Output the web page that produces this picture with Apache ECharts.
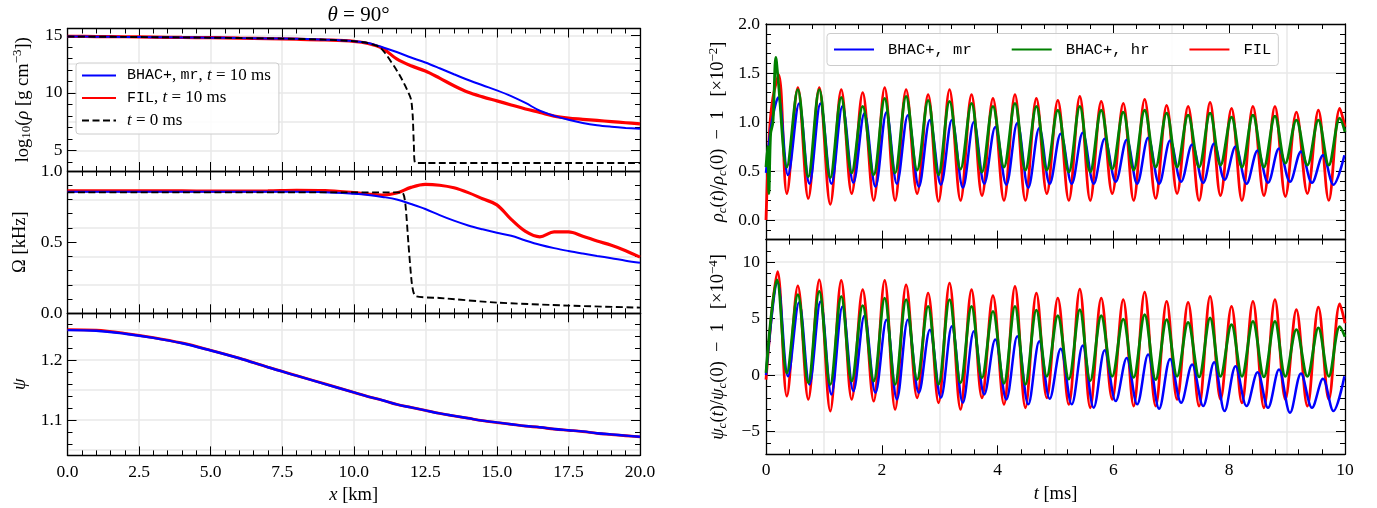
<!DOCTYPE html>
<html><head><meta charset="utf-8"><title>chart</title>
<script src="https://cdn.jsdelivr.net/npm/echarts@6.0.0/dist/echarts.min.js"></script>
<style>html,body{margin:0;padding:0;background:#fff;}#chart{width:1377px;height:508px;}</style>
</head><body><div id="chart"></div>
<script>
// ================= DATA: left column (profiles along x, theta = 90 deg) =================
const xKm = [0,1,2,3,4,5,6,7,8,9,10,10.5,11,11.5,12,12.5,13,13.5,14,14.5,15,15.5,16,16.5,17,17.5,18,18.5,19,19.5,20];
const rhoBHAC = [14.9,14.89,14.87,14.84,14.82,14.8,14.77,14.74,14.7,14.63,14.5,14.33,13.97,13.55,13.08,12.64,12.14,11.62,11.12,10.66,10.22,9.72,9.12,8.45,8.0,7.66,7.38,7.18,7.05,6.95,6.87];
const rhoFIL  = [14.92,14.9,14.88,14.85,14.82,14.8,14.76,14.72,14.67,14.6,14.48,14.3,13.88,12.95,12.35,11.9,11.28,10.62,10.05,9.65,9.3,8.95,8.6,8.3,7.98,7.8,7.7,7.6,7.5,7.4,7.3];
const omegaBHAC = [0.855,0.855,0.855,0.855,0.855,0.855,0.854,0.854,0.854,0.851,0.84,0.832,0.818,0.8,0.768,0.733,0.69,0.651,0.617,0.59,0.566,0.545,0.512,0.482,0.458,0.438,0.42,0.403,0.387,0.37,0.355];
const omegaFIL  = [0.86,0.86,0.86,0.86,0.86,0.859,0.859,0.86,0.864,0.862,0.848,0.838,0.831,0.845,0.885,0.906,0.9,0.882,0.848,0.805,0.762,0.66,0.575,0.537,0.572,0.572,0.542,0.508,0.478,0.44,0.395];
const psiBHAC = [1.25,1.249,1.244,1.237,1.228,1.216,1.203,1.188,1.174,1.16,1.146,1.139,1.133,1.126,1.121,1.116,1.111,1.107,1.103,1.099,1.096,1.093,1.09,1.088,1.085,1.083,1.081,1.078,1.076,1.074,1.072];
const psiFIL  = [1.2508,1.2498,1.2447,1.2376,1.2285,1.2164,1.2033,1.1883,1.1742,1.1602,1.1461,1.139,1.133,1.126,1.121,1.116,1.111,1.107,1.103,1.099,1.0958,1.0928,1.0898,1.0878,1.0848,1.0828,1.0808,1.0778,1.0758,1.0738,1.0718];
const xInitRho = [0,2,5,7.5,9,10,10.5,10.9,11.1,11.4,11.6,11.8,12.0,12.06,12.1,12.15,20];
const rhoInit  = [14.9,14.87,14.8,14.72,14.63,14.5,14.33,14.0,13.45,12.35,11.55,10.6,9.45,8.0,5.5,3.9,3.9];
const xInitOmega = [0,11.68,11.8,11.91,12.03,12.15,13,15,17.5,20];
const omegaInit  = [0.85,0.85,0.773,0.49,0.21,0.122,0.108,0.075,0.054,0.04];

// ================= DATA: right column (central values vs time) =================
// times (ms) of successive troughs / peaks
const tExt = [0.36,0.55,0.73,0.92,1.11,1.30,1.48,1.67,1.86,2.05,2.23,2.42,2.61,2.80,2.98,3.17,3.36,3.55,3.73,3.92,4.11,4.30,4.48,4.67,4.85,5.04,5.23,5.42,5.60,5.79,5.98,6.17,6.35,6.54,6.73,6.92,7.10,7.29,7.48,7.67,7.85,8.04,8.22,8.41,8.60,8.79,8.97,9.16,9.35,9.54,9.72,9.91];
const tExtMr = [0.38,0.57,0.75,0.94,1.13,1.32,1.51,1.70,1.89,2.08,2.26,2.45,2.64,2.83,3.02,3.21,3.40,3.59,3.77,3.96,4.15,4.34,4.53,4.72,4.90,5.09,5.28,5.47,5.66,5.85,6.04,6.23,6.41,6.60,6.79,6.98,7.17,7.36,7.55,7.74,7.92,8.11,8.30,8.49,8.67,8.86,9.05,9.24,9.43,9.62,9.80,9.99];
// rho_c(t)/rho_c(0) - 1  [x 1e-2]
const rhoMrStart = [[0,0.48],[0.1,1.0],[0.21,1.25]];
const rhoMrExt = [0.46,1.19, 0.37,1.19, 0.37,1.16, 0.38,1.09, 0.34,1.10, 0.37,1.07, 0.34,1.02, 0.36,1.02, 0.33,1.00, 0.37,0.95, 0.36,0.99, 0.33,0.94, 0.37,0.88, 0.37,0.89, 0.37,0.83, 0.39,0.82, 0.37,0.84, 0.37,0.81, 0.39,0.77, 0.38,0.78, 0.41,0.75, 0.37,0.71, 0.38,0.73, 0.39,0.70, 0.38,0.66, 0.36,0.66];
const rhoHrStart = [[0,0.54],[0.03,0.75],[0.05,0.27],[0.08,0.88],[0.12,1.0],[0.17,1.66],[0.21,1.43]];
const rhoHrExt = [0.54,1.33, 0.44,1.33, 0.43,1.25, 0.48,1.16, 0.46,1.24, 0.48,1.26, 0.51,1.22, 0.46,1.21, 0.52,1.19, 0.49,1.16, 0.54,1.19, 0.51,1.16, 0.51,1.12, 0.49,1.16, 0.49,1.12, 0.52,1.10, 0.51,1.12, 0.54,1.09, 0.54,1.07, 0.54,1.09, 0.56,1.05, 0.54,1.07, 0.54,1.06, 0.58,1.02, 0.56,1.02, 0.56,1.04];
const rhoHrEnd = [10, 0.9];
const rhoFilStart = [[0,0.0],[0.06,0.9],[0.12,1.25],[0.22,1.48]];
const rhoFilExt = [0.27,1.35, 0.22,1.35, 0.16,1.33, 0.27,1.30, 0.20,1.35, 0.20,1.33, 0.27,1.28, 0.19,1.33, 0.20,1.28, 0.25,1.24, 0.20,1.28, 0.20,1.24, 0.27,1.22, 0.20,1.26, 0.20,1.21, 0.27,1.19, 0.20,1.23, 0.22,1.17, 0.27,1.16, 0.20,1.20, 0.25,1.14, 0.20,1.16, 0.25,1.16, 0.24,1.10, 0.27,1.12, 0.20,1.14];
const rhoFilEnd = [10, 0.95];
// psi_c(t)/psi_c(0) - 1  [x 1e-4]
const psiMrStart = [[0,0.0],[0.2,8.2]];
const psiMrExt = [-0.09,6.44, -0.82,6.53, -1.70,6.09, -1.41,5.27, -1.55,4.91, -2.14,4.91, -1.55,4.03, -2.00,4.33, -2.44,3.88, -1.70,3.15, -2.14,3.44, -2.58,3.00, -2.09,2.33, -2.58,2.62, -2.88,2.21, -2.29,1.53, -2.58,1.83, -2.97,1.44, -2.44,0.94, -2.73,1.15, -3.17,0.80, -2.73,0.27, -2.88,0.50, -3.32,0.15, -2.88,-0.32, -3.17,-0.10];
const psiHrStart = [[0,0.2],[0.19,8.44]];
const psiHrExt = [0.20,7.12, -0.67,7.41, -0.82,6.97, -0.52,6.15, -0.52,6.82, -0.82,6.68, -0.38,6.09, -0.82,6.68, -0.67,6.09, -0.23,5.64, -0.73,6.09, -0.82,5.76, -0.10,5.26, -0.35,5.79, -0.50,5.26, -0.10,4.97, -0.20,5.35, -0.40,4.91, -0.10,4.68, -0.15,5.06, -0.10,4.47, -0.10,4.76, -0.15,4.76, -0.10,4.03, -0.10,4.18, -0.10,4.30];
const psiHrEnd = [10, 3.4];
const psiFilStart = [[0,-0.4],[0.2,9.17]];
const psiFilExt = [-1.85,7.91, -2.14,8.44, -3.17,8.38, -2.14,7.56, -2.29,8.38, -3.02,8.00, -2.00,7.26, -2.44,8.15, -3.02,7.56, -2.00,7.03, -2.58,7.85, -2.88,7.26, -2.00,6.82, -2.58,7.62, -2.88,6.82, -2.14,6.68, -2.73,7.35, -2.73,6.53, -2.14,6.44, -2.73,6.97, -2.14,6.09, -2.44,6.53, -2.88,6.68, -2.14,5.79, -2.73,6.03, -2.14,6.32];
const psiFilEnd = [10, 4.6];

// ================= tick labels / grid-line positions =================
const xTicksKm = [0,2.5,5,7.5,10,12.5,15,17.5,20];
const rhoTicks = [5,10,15];
const omegaTicks = [0,0.5,1.0];
const psiTicks = [1.1,1.2];
const tTicks = [0,2,4,6,8,10];
const rhoCTicks = [0,0.5,1.0,1.5,2.0];
const psiCTicks = [-5,0,5,10];
const rhoGridVals = [5,7.5,10,12.5,15];
const omegaGridVals = [0.2,0.4,0.6,0.8];
const psiGridVals = [1.05,1.1,1.15,1.2,1.25];
const tGridVals = [1,3,5,7,9];
const rhoCGridVals = [0,0.5,1.0,1.5];
const psiCGridVals = [-5,0,5,10];

function steps(a, b, d) { const r = []; for (let k = 0; a + k * d <= b + 1e-9; k++) r.push(+(a + k * d).toFixed(6)); return r; }
function pairs(xs, ys) { return xs.map((x, i) => [x, ys[i]]); }
function osc(start, times, vals, end) { const p = start.slice(); times.forEach((t, i) => p.push([t, vals[i]])); if (end) p.push(end); return p; }

const SERIF = '"Liberation Serif", "DejaVu Serif", serif';
const MONO = '"Liberation Mono", "DejaVu Sans Mono", monospace';
const NS = 18.5;
const rich = {
  r: {fontFamily: SERIF, fontSize: NS, color: '#000'},
  i: {fontFamily: SERIF, fontSize: NS, fontStyle: 'italic', color: '#000'},
  sub: {fontFamily: SERIF, fontSize: 13, color: '#000', padding: [8, 0, 0, 0]},
  subi: {fontFamily: SERIF, fontSize: 13, fontStyle: 'italic', color: '#000', padding: [8, 0, 0, 0]},
  sup: {fontFamily: SERIF, fontSize: 13, color: '#000', padding: [0, 0, 10, 0]},
  m: {fontFamily: MONO, fontSize: 15, color: '#000'},
  m2: {fontFamily: MONO, fontSize: 15.5, color: '#000'},
  lr: {fontFamily: SERIF, fontSize: 17, color: '#000'},
  li: {fontFamily: SERIF, fontSize: 17, fontStyle: 'italic', color: '#000'}
};

const layout = [
  {left: 67.5, top: 28.5, width: 572.5, height: 142.5},
  {left: 67.5, top: 171, width: 572.5, height: 142.3},
  {left: 67.5, top: 313.3, width: 572.5, height: 142.1},
  {left: 766, top: 24, width: 579, height: 215.6},
  {left: 766, top: 239.6, width: 579, height: 214.7}
];

const axes = {x: [], y: []};
function blank(gi, min, max, position) {
  return {type: 'value', gridIndex: gi, min: min, max: max, position: position,
    axisLine: {show: false, onZero: false}, axisTick: {show: false}, axisLabel: {show: false},
    splitLine: {show: false}, minorTick: {show: false}, minorSplitLine: {show: false}, splitArea: {show: false}};
}
function addAxes(dim, gi, s) {
  const list = axes[dim];
  const pos = dim === 'x' ? ['bottom', 'top'] : ['left', 'right'];
  const tickStyle = {color: '#000', width: 1};
  const lineStyle = {color: '#000', width: 1.3};
  const idx = list.length;
  const main = blank(gi, s.min, s.max, pos[0]);
  main.axisLine = {show: true, onZero: false, lineStyle: lineStyle};
  main.axisTick = {show: true, inside: true, length: 9, customValues: s.major, lineStyle: tickStyle};
  if (s.labels) {
    main.axisLabel = {show: true, customValues: s.major, formatter: s.fmt, margin: s.margin,
      fontFamily: SERIF, fontSize: 17.5, color: '#000'};
  }
  if (s.name) {
    main.name = s.name; main.nameLocation = 'middle'; main.nameGap = s.nameGap;
    if (dim === 'y') main.nameRotate = 90;
    main.nameTextStyle = {rich: rich};
  }
  list.push(main);
  const g = blank(gi, s.min, s.max, pos[0]);
  g.axisTick = {show: false, customValues: s.grid};
  g.splitLine = {show: true, lineStyle: {color: '#e8e8e8', width: 1.5}};
  list.push(g);
  const mn = blank(gi, s.min, s.max, pos[0]);
  mn.axisTick = {show: true, inside: true, length: 5, customValues: s.minor, lineStyle: tickStyle};
  list.push(mn);
  const op = blank(gi, s.min, s.max, pos[1]);
  op.axisLine = {show: true, onZero: false, lineStyle: lineStyle};
  op.axisTick = {show: true, inside: true, length: 9, customValues: s.major, lineStyle: tickStyle};
  list.push(op);
  const opm = blank(gi, s.min, s.max, pos[1]);
  opm.axisTick = {show: true, inside: true, length: 5, customValues: s.minor, lineStyle: tickStyle};
  list.push(opm);
  return idx;
}

const fmt1 = v => (+v).toFixed(1);
const fmtMinus = v => (v < 0 ? '\u2212' + (-v) : String(v));
const xKmSpec = (labels) => ({min: 0, max: 20, major: xTicksKm, minor: steps(0, 20, 0.5), grid: xTicksKm, labels: labels, fmt: fmt1, margin: 8,
  name: labels ? '{i|x}{r| [km]}' : null, nameGap: 30});
const xMsSpec = (labels) => ({min: 0, max: 10, major: tTicks, minor: steps(0, 10, 0.4), grid: tGridVals, labels: labels, fmt: v => String(v), margin: 7,
  name: labels ? '{i|t}{r| [ms]}' : null, nameGap: 30});

const X = [], Y = [];
X[0] = addAxes('x', 0, xKmSpec(false));
Y[0] = addAxes('y', 0, {min: 3.2, max: 15.6, major: rhoTicks, minor: steps(4, 15, 1), grid: rhoGridVals, labels: true, fmt: v => String(v), margin: 5,
  name: '{r|log}{sub|10}{r|(}{i|ρ}{r| [g cm}{sup|−3}{r|])}', nameGap: 33});
X[1] = addAxes('x', 1, xKmSpec(false));
Y[1] = addAxes('y', 1, {min: 0, max: 1, major: omegaTicks, minor: steps(0, 1, 0.1), grid: omegaGridVals, labels: true, fmt: fmt1, margin: 5,
  name: '{r|Ω [kHz]}', nameGap: 38});
X[2] = addAxes('x', 2, xKmSpec(true));
Y[2] = addAxes('y', 2, {min: 1.041, max: 1.278, major: psiTicks, minor: steps(1.06, 1.26, 0.02), grid: psiGridVals, labels: true, fmt: fmt1, margin: 5,
  name: '{i|ψ}', nameGap: 38});
X[3] = addAxes('x', 3, xMsSpec(false));
Y[3] = addAxes('y', 3, {min: -0.2, max: 2.0, major: rhoCTicks, minor: steps(-0.1, 2.0, 0.1), grid: rhoCGridVals, labels: true, fmt: fmt1, margin: 6,
  name: '{i|ρ}{subi|c}{r|(}{i|t}{r|)/}{i|ρ}{subi|c}{r|(0)  −  1   [×10}{sup|−2}{r|]}', nameGap: 36});
X[4] = addAxes('x', 4, xMsSpec(true));
Y[4] = addAxes('y', 4, {min: -7, max: 12, major: psiCTicks, minor: steps(-7, 12, 1), grid: psiCGridVals, labels: true, fmt: fmtMinus, margin: 6,
  name: '{i|ψ}{subi|c}{r|(}{i|t}{r|)/}{i|ψ}{subi|c}{r|(0)  −  1   [×10}{sup|−4}{r|]}', nameGap: 36});

const BLUE = '#0000ff', RED = '#ff0000', GREEN = '#008000';
function line(name, gi, data, color, width, z, extra) {
  return Object.assign({type: 'line', name: name, xAxisIndex: X[gi], yAxisIndex: Y[gi], data: data,
    showSymbol: false, symbol: 'none', smooth: 0.35, lineStyle: {color: color, width: width}, itemStyle: {color: color},
    z: z, animation: false, emphasis: {disabled: true}}, extra || {});
}
const N1 = 'BHAC+, mr, t = 10 ms', N2 = 'FIL, t = 10 ms', N3 = 't = 0 ms';
const M1 = 'BHAC+, mr', M2 = 'BHAC+, hr', M3 = 'FIL';
const dashed = {smooth: 0.2, lineStyle: {color: '#000', width: 1.9, type: [7, 3.5]}};

const series = [
  line(N2, 0, pairs(xKm, rhoFIL), RED, 3.2, 2),
  line(N1, 0, pairs(xKm, rhoBHAC), BLUE, 2.0, 3),
  line(N3, 0, pairs(xInitRho, rhoInit), '#000', 1.9, 4, dashed),
  line(N2, 1, pairs(xKm, omegaFIL), RED, 3.2, 2),
  line(N1, 1, pairs(xKm, omegaBHAC), BLUE, 2.0, 3),
  line(N3, 1, pairs(xInitOmega, omegaInit), '#000', 1.9, 4, dashed),
  line(N2, 2, pairs(xKm, psiFIL), RED, 2.8, 2),
  line(N1, 2, pairs(xKm, psiBHAC), BLUE, 2.4, 3),
  line(M3, 3, osc(rhoFilStart, tExt, rhoFilExt, rhoFilEnd), RED, 2.8, 2),
  line(M1, 3, osc(rhoMrStart, tExtMr, rhoMrExt, null), BLUE, 2.5, 3),
  line(M2, 3, osc(rhoHrStart, tExt, rhoHrExt, rhoHrEnd), GREEN, 2.8, 4),
  line(M3, 4, osc(psiFilStart, tExt, psiFilExt, psiFilEnd), RED, 2.8, 2),
  line(M1, 4, osc(psiMrStart, tExtMr, psiMrExt, null), BLUE, 2.5, 3),
  line(M2, 4, osc(psiHrStart, tExt, psiHrExt, psiHrEnd), GREEN, 2.8, 4)
];

const legendLeftText = {};
legendLeftText[N1] = '{m|BHAC+}{lr|, }{m|mr}{lr|, }{li|t}{lr| = 10 ms}';
legendLeftText[N2] = '{m|FIL}{lr|, }{li|t}{lr| = 10 ms}';
legendLeftText[N3] = '{li|t}{lr| = 0 ms}';
const legendRightText = {};
legendRightText[M1] = '{m2|BHAC+, mr}';
legendRightText[M2] = '{m2|BHAC+, hr}';
legendRightText[M3] = '{m2|FIL}';

const hiddenSymbol = {color: 'rgba(0,0,0,0)', opacity: 0, borderWidth: 0};
const option = {
  animation: false,
  backgroundColor: '#fff',
  textStyle: {fontFamily: SERIF},
  title: {text: '{i|θ}{r| = 90°}', left: 353.5, top: 0, textAlign: 'center',
    textStyle: {fontWeight: 'normal', rich: {i: {fontFamily: SERIF, fontSize: 21, fontStyle: 'italic', color: '#000'}, r: {fontFamily: SERIF, fontSize: 21, color: '#000'}}}},
  grid: layout.map(l => Object.assign({containLabel: false, outerBoundsMode: 'none'}, l)),
  xAxis: axes.x,
  yAxis: axes.y,
  legend: [
    {data: [N1, N2, N3], orient: 'vertical', left: 76, top: 63, itemWidth: 34, itemHeight: 16, itemGap: 5.5,
      padding: [4, 8, 5, 5], backgroundColor: 'rgba(255,255,255,0.85)', borderColor: '#cccccc', borderWidth: 1, borderRadius: 3,
      itemStyle: hiddenSymbol,
      formatter: n => legendLeftText[n], textStyle: {rich: rich, lineHeight: 17, padding: [0, 0, 0, 6]}, selectedMode: false},
    {data: [M1, M2, M3], orient: 'horizontal', left: 827, top: 33.5, itemWidth: 40, itemHeight: 16, itemGap: 39,
      padding: [8, 7, 8, 6], backgroundColor: 'rgba(255,255,255,0.85)', borderColor: '#cccccc', borderWidth: 1, borderRadius: 3,
      itemStyle: hiddenSymbol,
      formatter: n => legendRightText[n], textStyle: {rich: rich, padding: [0, 0, 0, 9]}, selectedMode: false}
  ],
  series: series
};
const chart = echarts.init(document.getElementById('chart'), null, {renderer: 'canvas'});
chart.setOption(option);
</script></body></html>
